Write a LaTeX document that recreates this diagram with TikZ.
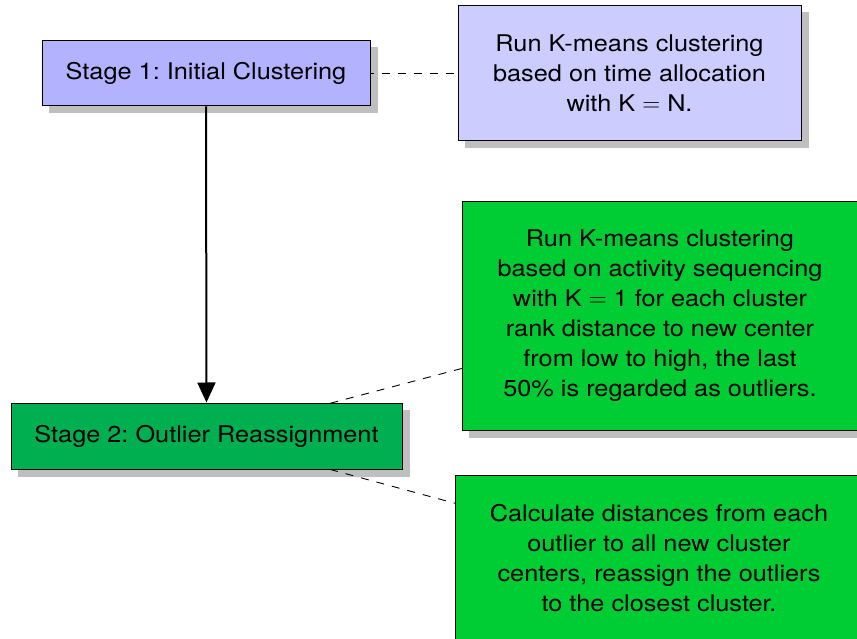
\documentclass[tikz,border=0pt]{standalone}
\usepackage{fontspec}
\setmainfont[FakeStretch=1.1]{TeX Gyre Heros}
\frenchspacing
\usetikzlibrary{arrows.meta}
\pgfdeclarelayer{shadowlayer}
\pgfdeclarelayer{linelayer}
\pgfsetlayers{shadowlayer,linelayer,main}
\definecolor{stageblue}{RGB}{178,178,255}
\definecolor{noteblue}{RGB}{204,204,255}
\definecolor{stagegreen}{RGB}{0,176,80}
\definecolor{notegreen}{RGB}{0,204,51}
\tikzset{
  box/.style={draw=black, line width=1pt, inner sep=0pt, align=center,
    font=\fontsize{23}{30}\selectfont},
  shade box/.style={fill=black!25},
  link/.style={draw=black, line width=0.9pt, dash pattern=on 8pt off 8pt},
  flow/.style={draw=black, line width=2pt, -{Triangle[length=20pt,width=18pt]}}
}
\newcommand{\boxshadow}[1]{%
  \fill[shade box] ([shift={(7pt,-7pt)}]#1.south west) rectangle ([shift={(7pt,-7pt)}]#1.north east);}
\begin{document}
\begin{tikzpicture}[x=1pt,y=-1pt]
\useasboundingbox (0,0) rectangle (857,639);
\clip (0,0) rectangle (857,639);
\node[box, fill=stageblue, minimum width=328pt, minimum height=65pt] (s1) at (206,73.5) {Stage 1: Initial Clustering};
\node[box, fill=noteblue, minimum width=343pt, minimum height=135pt] (n1) at (629.5,73.5) {Run K-means clustering\\based on time allocation\\with K $=$ N.};
\node[box, fill=stagegreen, minimum width=391pt, minimum height=66pt] (s2) at (206.5,436) {Stage 2: Outlier Reassignment};
\node[box, fill=notegreen, minimum width=396pt, minimum height=228pt] (n2) at (660,316) {Run K-means clustering\\based on activity sequencing\\with K $=$ 1 for each cluster\\rank distance to new center\\from low to high, the last\\50\% is regarded as outliers.};
\node[box, fill=notegreen, minimum width=408pt, minimum height=167pt] (n3) at (659,558.5) {Calculate distances from each\\outlier to all new cluster\\centers, reassign the outliers\\to the closest cluster.};
\begin{pgfonlayer}{shadowlayer}
\boxshadow{s1}
\boxshadow{n1}
\boxshadow{s2}
\boxshadow{n2}
\boxshadow{n3}
\end{pgfonlayer}
\begin{pgfonlayer}{linelayer}
\draw[link] (s1.center) -- (n1.center);
\draw[link] (s2.center) -- (n2.center);
\draw[link] (s2.center) -- (n3.center);
\end{pgfonlayer}
\draw[flow] (s1) -- (s2);
\end{tikzpicture}
\end{document}
